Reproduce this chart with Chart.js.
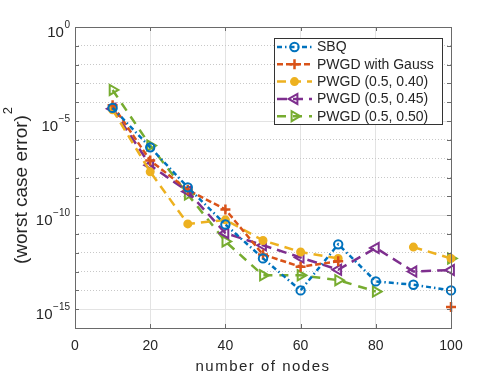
<!DOCTYPE html>
<html>
<head>
<meta charset="utf-8">
<script src="https://cdn.jsdelivr.net/npm/chart.js@4.4.0/dist/chart.umd.min.js"></script>
<style>
  body { margin: 0; background: #fff; }
  #wrap { width: 498px; height: 374px; }
</style>
</head>
<body>
<div id="wrap"><canvas id="chart" width="498" height="374"></canvas></div>
<script>
"use strict";

const nodes = [10, 20, 30, 40, 50, 60, 70, 80, 90, 100];
const sbq = [5.0e-5, 4.0e-7, 3.0e-9, 3.2e-11, 5.0e-13, 1.0e-14, 2.8e-12, 3.0e-14, 2.0e-14, 1.0e-14];
const pwgdGauss = [7.0e-5, 8.0e-8, 2.2e-9, 2.0e-10, 8.0e-13, 1.8e-13, 3.5e-13, null, null, 1.3e-15];
const pwgd040 = [4.0e-5, 2.0e-8, 3.4e-11, 5.6e-11, 4.5e-12, 1.1e-12, 5.0e-13, null, 2.0e-12, 5.0e-13];
const pwgd045 = [4.5e-5, 4.5e-8, 1.8e-9, 1.1e-11, 2.5e-12, 5.6e-13, 1.25e-13, 1.8e-12, 1.0e-13, 1.2e-13];
const pwgd050 = [4.5e-4, 5.0e-7, 1.25e-9, 4.0e-12, 6.3e-14, 6.3e-14, 3.5e-14, 8.7e-15, null, 5.0e-13];

const seriesNames = ["SBQ", "PWGD with Gauss", "PWGD (0.5, 0.40)", "PWGD (0.5, 0.45)", "PWGD (0.5, 0.50)"];
const xTicks = [0, 20, 40, 60, 80, 100];
const yLabelExponents = [0, -5, -10, -15];
const xTitle = "number of nodes";
const yTitle = "(worst case error)";

const FONT = "'Liberation Sans', Arial, sans-serif";
const AXIS = "#6a6a6a";
const TEXT = "#262626";

function pts(values) {
    return nodes.map((n, i) => ({ x: n, y: values[i] }));
}

function line(label, values, color, dash, style) {
    return Object.assign({
        label: label,
        data: pts(values),
        borderColor: color,
        pointBorderColor: color,
        backgroundColor: color,
        pointBackgroundColor: "rgba(0,0,0,0)",
        borderWidth: 2.5,
        borderDash: dash,
        pointBorderWidth: 2,
        pointRadius: 4,
        pointHoverRadius: 4,
        spanGaps: false,
        tension: 0,
        clip: false
    }, style);
}

const datasets = [
    line(seriesNames[0], sbq, "#0072BD", [5, 3, 1.5, 3], { pointStyle: "circle", pointRadius: 4.2 }),
    line(seriesNames[1], pwgdGauss, "#D95319", [6, 3], { pointStyle: "cross", pointRadius: 5, pointBorderWidth: 2.5 }),
    line(seriesNames[2], pwgd040, "#EDB120", [9, 6], { pointStyle: "circle", pointRadius: 3.5, pointBackgroundColor: "#EDB120" }),
    line(seriesNames[3], pwgd045, "#7E2F8E", [10, 6], { pointStyle: "triangle", pointRotation: -90, pointRadius: 5.8 }),
    line(seriesNames[4], pwgd050, "#77AC30", [9, 7], { pointStyle: "triangle", pointRotation: 90, pointRadius: 5.8 })
];

function isMajor(v) {
    return Math.round(Math.log10(v)) % 5 === 0;
}

// frame, inward ticks, y labels with exponents, axis titles, legend
const decor = {
    id: "decor",
    afterDraw(chart) {
        const ctx = chart.ctx;
        const a = chart.chartArea;
        const xs = chart.scales.x;
        const ys = chart.scales.y;
        ctx.save();

        // box
        ctx.strokeStyle = AXIS;
        ctx.lineWidth = 1;
        ctx.setLineDash([]);
        ctx.strokeRect(Math.round(a.left) + 0.5, Math.round(a.top) + 0.5,
            Math.round(a.right - a.left), Math.round(a.bottom - a.top));

        // inward ticks
        ctx.beginPath();
        xTicks.forEach(v => {
            const px = Math.round(xs.getPixelForValue(v)) + 0.5;
            ctx.moveTo(px, a.bottom); ctx.lineTo(px, a.bottom - 4);
            ctx.moveTo(px, a.top); ctx.lineTo(px, a.top + 4);
        });
        for (let k = 0; k <= 16; k++) {
            const py = Math.round(ys.getPixelForValue(Math.pow(10, -k))) + 0.5;
            ctx.moveTo(a.left, py); ctx.lineTo(a.left + 4, py);
            ctx.moveTo(a.right, py); ctx.lineTo(a.right - 4, py);
        }
        ctx.stroke();

        // y tick labels 10^k
        ctx.fillStyle = TEXT;
        ctx.textBaseline = "alphabetic";
        yLabelExponents.forEach(k => {
            const py = ys.getPixelForValue(Math.pow(10, k));
            const sup = String(k).replace("-", "\u2212");
            ctx.font = "10px " + FONT;
            const sw = ctx.measureText(sup).width;
            const right = 70;
            ctx.textAlign = "left";
            ctx.fillText(sup, right - sw, py + 0.5);
            ctx.font = "15px " + FONT;
            ctx.textAlign = "right";
            ctx.fillText("10", right - sw - 0.5, py + 9.5);
        });

        // x title
        ctx.font = "15px " + FONT;
        ctx.letterSpacing = "1.5px";
        ctx.textAlign = "center";
        ctx.fillText(xTitle, 263, 370.5);
        ctx.letterSpacing = "0px";

        // y title, rotated, with superscript 2
        ctx.save();
        ctx.translate(27, 264);
        ctx.rotate(-Math.PI / 2);
        ctx.textAlign = "left";
        ctx.font = "19px " + FONT;
        const tw = ctx.measureText(yTitle).width;
        ctx.fillText(yTitle, 0, 0);
        ctx.font = "13px " + FONT;
        ctx.fillText("2", tw + 1, -15);
        ctx.restore();

        // legend
        const lx = 274, ly = 38, lw = 168, lh = 86;
        ctx.fillStyle = "#ffffff";
        ctx.fillRect(lx, ly, lw, lh);
        ctx.strokeStyle = "#333333";
        ctx.lineWidth = 1;
        ctx.strokeRect(lx + 0.5, ly + 0.5, lw, lh);
        ctx.font = "14px " + FONT;
        ctx.textBaseline = "middle";
        ctx.textAlign = "left";
        chart.data.datasets.forEach((ds, i) => {
            const y = 47 + i * 17.3;
            ctx.strokeStyle = ds.borderColor;
            ctx.lineWidth = ds.borderWidth;
            ctx.setLineDash(ds.borderDash);
            ctx.beginPath();
            ctx.moveTo(277, y); ctx.lineTo(312, y);
            ctx.stroke();
            ctx.setLineDash([]);
            ctx.fillStyle = ds.pointBackgroundColor;
            ctx.lineWidth = ds.pointBorderWidth;
            Chart.helpers.drawPoint(ctx, {
                pointStyle: ds.pointStyle,
                rotation: ds.pointRotation || 0,
                radius: ds.pointRadius,
                borderWidth: ds.pointBorderWidth
            }, 294.5, y);
            ctx.fillStyle = TEXT;
            ctx.fillText(ds.label, 317, y + 0.5);
        });

        ctx.restore();
    }
};

const chart = new Chart(document.getElementById("chart").getContext("2d"), {
    type: "line",
    data: { datasets: datasets },
    options: {
        responsive: false,
        animation: false,
        events: [],
        layout: { padding: { left: 0, top: 27, right: 47, bottom: 0 } },
        plugins: {
            legend: { display: false },
            tooltip: { enabled: false }
        },
        scales: {
            x: {
                type: "linear",
                min: 0,
                max: 100,
                afterBuildTicks: s => { s.ticks = xTicks.map(v => ({ value: v })); },
                afterFit: s => { s.height = 46; },
                grid: { color: "#e3e3e3", drawTicks: false },
                border: { display: false },
                ticks: { color: TEXT, font: { family: FONT, size: 14 }, padding: 10, maxRotation: 0 }
            },
            y: {
                type: "logarithmic",
                min: 1e-16,
                max: 1,
                afterBuildTicks: s => {
                    const t = [];
                    for (let k = 0; k <= 16; k++) t.push({ value: Math.pow(10, -k) });
                    s.ticks = t;
                },
                afterFit: s => { s.width = 75; },
                grid: {
                    color: c => (c.tick && !isMajor(c.tick.value)) ? "#c8c8c8" : "#e3e3e3",
                    drawTicks: false
                },
                border: {
                    display: false,
                    dash: c => (c.tick && !isMajor(c.tick.value)) ? [1, 2] : []
                },
                ticks: { display: false }
            }
        }
    },
    plugins: [decor]
});
</script>
</body>
</html>
